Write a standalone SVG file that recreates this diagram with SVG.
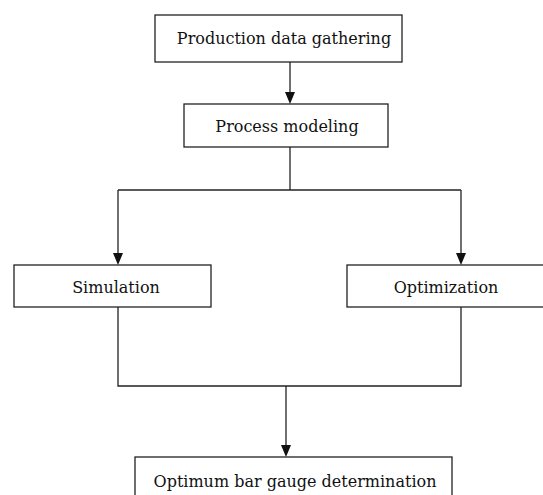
<svg xmlns="http://www.w3.org/2000/svg" width="543" height="495" viewBox="0 0 543 495">
<style>
rect{fill:#fff;stroke:#222;stroke-width:1.3}
text{font-family:"DejaVu Serif","Liberation Serif",serif;font-size:16px;fill:#111;text-anchor:middle}
.c{fill:none;stroke:#222;stroke-width:1.3}
</style>
<rect x="0" y="0" width="543" height="495" style="stroke:none"/>
<g id="connectors">
<line class="c" x1="290" y1="62" x2="290" y2="95"/>
<polyline class="c" points="290,147 290,190"/>
<polyline class="c" points="118,190 461,190"/>
<line class="c" x1="118" y1="190" x2="118" y2="255"/>
<line class="c" x1="461" y1="190" x2="461" y2="255"/>
<polyline class="c" points="118,307 118,386 461,386 461,307"/>
<line class="c" x1="286" y1="386" x2="286" y2="447"/>
<g id="arrowheads" fill="#111">
<path d="M285,92 L295,92 L290,104 Z"/>
<path d="M113,253 L123,253 L118,265 Z"/>
<path d="M456,253 L466,253 L461,265 Z"/>
<path d="M281,445 L291,445 L286,457 Z"/>
</g>
</g>
<g id="n1"><rect x="155" y="15" width="247" height="47"/><text x="284" y="44">Production data gathering</text></g>
<g id="n2"><rect x="184" y="104" width="204" height="43"/><text x="287" y="132">Process modeling</text></g>
<g id="n3"><rect x="14" y="265" width="197" height="42"/><text x="116" y="293">Simulation</text></g>
<g id="n4"><rect x="347" y="265" width="200" height="42"/><text x="446" y="293">Optimization</text></g>
<g id="n5"><rect x="135" y="457" width="317" height="45"/><text x="295" y="487">Optimum bar gauge determination</text></g>
</svg>
